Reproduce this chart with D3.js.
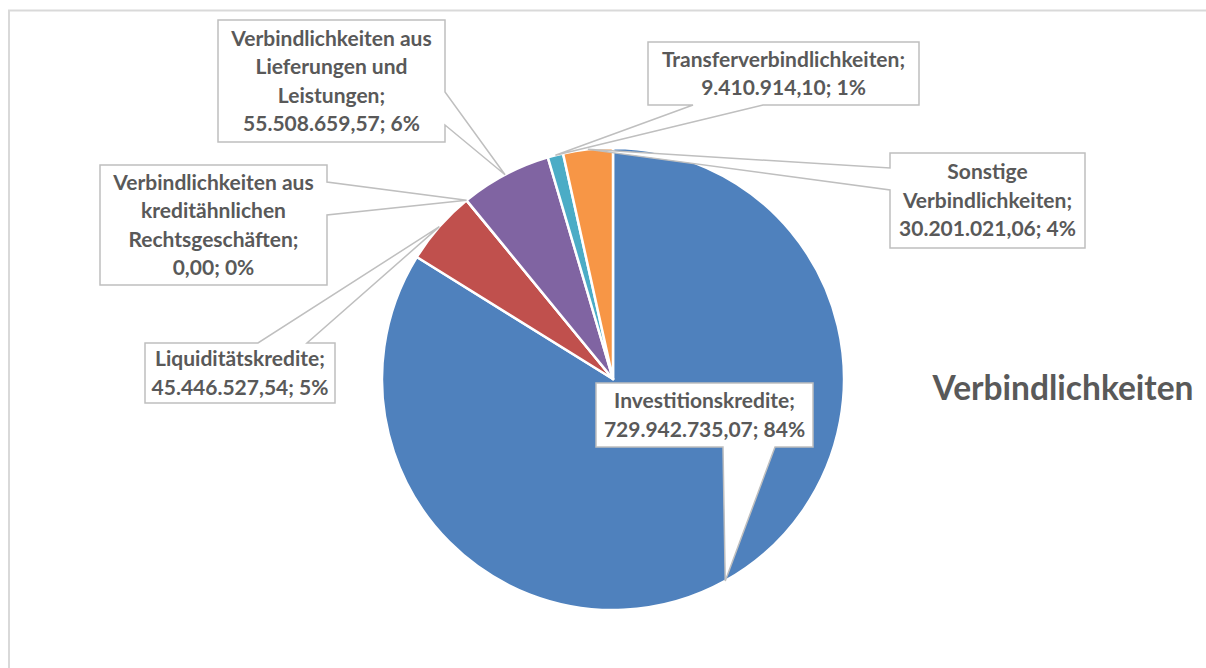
<!DOCTYPE html>
<html><head><meta charset="utf-8">
<script src="https://cdn.jsdelivr.net/npm/d3@7"></script>
<style>html,body{margin:0;padding:0;background:#fff;}svg{display:block;}</style>
</head><body>
<svg id="chart" width="1206" height="668"></svg>
<script>
const categories = [
  "Investitionskredite",
  "Liquiditätskredite",
  "Verbindlichkeiten aus kreditähnlichen Rechtsgeschäften",
  "Verbindlichkeiten aus Lieferungen und Leistungen",
  "Transferverbindlichkeiten",
  "Sonstige Verbindlichkeiten"
];
const values = [729942735.07, 45446527.54, 0.00, 55508659.57, 9410914.10, 30201021.06];
const valueLabels = ["729.942.735,07","45.446.527,54","0,00","55.508.659,57","9.410.914,10","30.201.021,06"];
const percentLabels = ["84%","5%","0%","6%","1%","4%"];
const labelLines = [
  ["Investitionskredite;", "729.942.735,07; 84%"],
  ["Liquiditätskredite;", "45.446.527,54; 5%"],
  ["Verbindlichkeiten aus", "kreditähnlichen", "Rechtsgeschäften;", "0,00; 0%"],
  ["Verbindlichkeiten aus", "Lieferungen und", "Leistungen;", "55.508.659,57; 6%"],
  ["Transferverbindlichkeiten;", "9.410.914,10; 1%"],
  ["Sonstige", "Verbindlichkeiten;", "30.201.021,06; 4%"]
];
const colors = ["#4f81bd","#c0504d","#9bbb59","#8064a2","#4bacc6","#f79646"];
const title = "Verbindlichkeiten";

// layout (callout boxes)
const boxes = [
  {x:596, y:383, w:217, h:64, edge:"bottom", a:723, b:775},
  {x:145, y:343, w:190, h:60, edge:"top", a:258, b:307},
  {x:100, y:165, w:227, h:120, edge:"right", a:182, b:215},
  {x:218, y:20, w:227, h:122, edge:"right", a:92, b:125},
  {x:648, y:42, w:271, h:63, edge:"bottom", a:693, b:763},
  {x:890, y:153, w:195, h:95, edge:"left", a:168, b:190}
];

const svg = d3.select("#chart");
// outer frame
svg.append("rect").attr("x",9).attr("y",10.5).attr("width",1220).attr("height",700)
  .attr("fill","#fff").attr("stroke","#d9d9d9").attr("stroke-width",2);

const cx = 613, cy = 379, R = 231;
const pie = d3.pie().sort(null).value(d=>d)(values);
const arc = d3.arc().innerRadius(0).outerRadius(R);
const g = svg.append("g").attr("transform",`translate(${cx},${cy})`);
g.selectAll("path").data(pie).join("path")
  .attr("d",arc).attr("fill",(d,i)=>colors[i])
  .attr("stroke","#fff").attr("stroke-width",2.5).attr("stroke-linejoin","round");

const font = "Lato, 'Open Sans', sans-serif";
// measure to fit Calibri-like width
const probe = svg.append("text").attr("font-family",font).attr("font-weight",700)
  .attr("font-size",20).text("Investitionskredite;");
const measured = probe.node().getComputedTextLength();
probe.remove();
const fs = Math.min(21, 20*198/measured);

const lblG = svg.append("g");
pie.forEach((d,i)=>{
  const mid = (d.startAngle+d.endAngle)/2;
  const tx = cx + R*Math.sin(mid), ty = cy - R*Math.cos(mid);
  const b = boxes[i];
  const x0=b.x, y0=b.y, x1=b.x+b.w, y1=b.y+b.h;
  let p;
  if (b.edge==="bottom") p = `M${x0},${y0}H${x1}V${y1}H${b.b}L${tx},${ty}L${b.a},${y1}H${x0}Z`;
  else if (b.edge==="top") p = `M${x0},${y0}H${b.a}L${tx},${ty}L${b.b},${y0}H${x1}V${y1}H${x0}Z`;
  else if (b.edge==="right") p = `M${x0},${y0}H${x1}V${b.a}L${tx},${ty}L${x1},${b.b}V${y1}H${x0}Z`;
  else p = `M${x0},${y0}H${x1}V${y1}H${x0}V${b.b}L${tx},${ty}L${x0},${b.a}Z`;
  lblG.append("path").attr("d",p).attr("fill","#fff").attr("stroke","#bfbfbf").attr("stroke-width",1.5);
  const lines = labelLines[i];
  const lh = 28.5;
  const midY = y0 + b.h/2;
  lines.forEach((t,k)=>{
    lblG.append("text").attr("x",x0+b.w/2).attr("y",midY + (k-(lines.length-1)/2)*lh)
      .attr("dy","0.35em").attr("text-anchor","middle")
      .attr("font-family",font).attr("font-weight",700).attr("font-size",fs)
      .attr("fill","#595959").text(t);
  });
});

const tProbe = svg.append("text").attr("font-family",font).attr("font-weight",700)
  .attr("font-size",28).text(title);
const tw = tProbe.node().getComputedTextLength();
tProbe.remove();
svg.append("text").attr("x",1063).attr("y",388).attr("dy","0.35em").attr("text-anchor","middle")
  .attr("font-family",font).attr("font-weight",700).attr("font-size",28*261/tw)
  .attr("fill","#595959").text(title);
</script>
</body></html>
